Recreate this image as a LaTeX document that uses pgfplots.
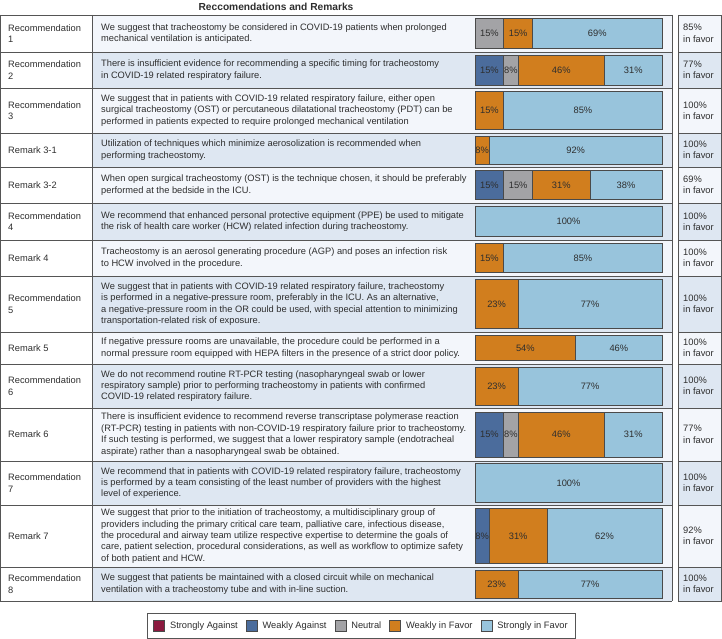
\documentclass[border=0pt]{standalone}
\usepackage{pgfplots}
\pgfplotsset{compat=1.18}
\usepackage{fontspec}
\setmainfont{Liberation Sans}
\definecolor{cSA}{HTML}{8B1A3F}
\definecolor{cWA}{HTML}{4B6C9C}
\definecolor{cN}{HTML}{A3A3A6}
\definecolor{cWF}{HTML}{D17E1E}
\definecolor{cSF}{HTML}{98C4DC}
\definecolor{rowB}{HTML}{DEE7F2}
\definecolor{rowL}{HTML}{F3F6FB}
\definecolor{gridc}{HTML}{555555}
\definecolor{barline}{HTML}{4A4A4A}
\definecolor{tcol}{HTML}{2E2E2E}
\newcommand\fs{\fontsize{9.3}{11.4}\selectfont}
\pgfplotsset{
  rowax/.style={xbar stacked, scale only axis, width=187pt,
    xmin=0, xmax=100, ymin=-0.5, ymax=0.5, hide axis, clip=false,
    anchor=north west, point meta=explicit,
    nodes near coords={\pgfmathprintnumber[fixed,precision=0,assume math mode=true]{\pgfplotspointmeta}\%},
    every node near coord/.append style={anchor=center, font=\fs, text=tcol}}
}
\newcommand\seg[2]{\addplot[fill=#1, draw=barline, line width=0.8pt] coordinates {(#2,0) [#2]};}
\newcommand\segf[2]{\addplot[forget plot, fill=#1, draw=barline, line width=0.8pt] coordinates {(#2,0) [#2]};}
\tikzset{txt/.style={anchor=west, align=left, inner sep=0pt, font=\fs, text=tcol}}
\begin{document}
\begin{tikzpicture}[x=1pt,y=-1pt]
\useasboundingbox (0,0) rectangle (722,639);
\node[anchor=base, font=\bfseries\fontsize{10.2}{12}\selectfont, text=tcol] at (276,10.5) {Reccomendations and Remarks};
% backgrounds
\foreach \t/\b/\c in {15/52/rowL,52/88/rowB,88/133/rowL,133/167/rowB,167/203/rowL,203/240/rowB,240/276/rowL,276/332/rowB,332/364/rowL,364/408/rowB,408/461/rowL,461/505/rowB,505/567/rowL,567/601/rowB}{
  \fill[\c] (92,\t) rectangle (672,\b);
  \fill[\c] (678,\t) rectangle (722,\b);
}
% grid
\foreach \yy in {15,52,88,133,167,203,240,276,332,364,408,461,505,567,601}{
  \draw[gridc, line width=0.9pt] (0,\yy) -- (672,\yy);
  \draw[gridc, line width=0.9pt] (678,\yy) -- (722,\yy);
}
\draw[gridc, line width=0.9pt] (0.5,15) -- (0.5,601) (92,15) -- (92,601) (672,15) -- (672,601) (678,15) -- (678,601) (721.5,15) -- (721.5,601);
% column 1
\node[txt] at (8,33.5) {Recommendation\\1};
\node[txt] at (8,70) {Recommendation\\2};
\node[txt] at (8,110.5) {Recommendation\\3};
\node[txt] at (8,150) {Remark 3-1};
\node[txt] at (8,185) {Remark 3-2};
\node[txt] at (8,221.5) {Recommendation\\4};
\node[txt] at (8,258) {Remark 4};
\node[txt] at (8,304) {Recommendation\\5};
\node[txt] at (8,348) {Remark 5};
\node[txt] at (8,386) {Recommendation\\6};
\node[txt] at (8,434.5) {Remark 6};
\node[txt] at (8,483) {Recommendation\\7};
\node[txt] at (8,536) {Remark 7};
\node[txt] at (8,584) {Recommendation\\8};
% column 2
\node[txt] at (101,33.5) {We suggest that tracheostomy be considered in COVID-19 patients when prolonged\\mechanical ventilation is anticipated.};
\node[txt] at (101,70) {There is insufficient evidence for recommending a specific timing for tracheostomy\\in COVID-19 related respiratory failure.};
\node[txt] at (101,110.5) {We suggest that in patients with COVID-19 related respiratory failure, either open\\surgical tracheostomy (OST) or percutaneous dilatational tracheostomy (PDT) can be\\performed in patients expected to require prolonged mechanical ventilation};
\node[txt] at (101,150) {Utilization of techniques which minimize aerosolization is recommended when\\performing tracheostomy.};
\node[txt] at (101,185) {When open surgical tracheostomy (OST) is the technique chosen, it should be preferably\\performed at the bedside in the ICU.};
\node[txt] at (101,221.5) {We recommend that enhanced personal protective equipment (PPE) be used to mitigate\\the risk of health care worker (HCW) related infection during tracheostomy.};
\node[txt] at (101,258) {Tracheostomy is an aerosol generating procedure (AGP) and poses an infection risk\\to HCW involved in the procedure.};
\node[txt] at (101,304) {We suggest that in patients with COVID-19 related respiratory failure, tracheostomy\\is performed in a negative-pressure room, preferably in the ICU. As an alternative,\\a negative-pressure room in the OR could be used, with special attention to minimizing\\transportation-related risk of exposure.};
\node[txt] at (101,348) {If negative pressure rooms are unavailable, the procedure could be performed in a\\normal pressure room equipped with HEPA filters in the presence of a strict door policy.};
\node[txt] at (101,386) {We do not recommend routine RT-PCR testing (nasopharyngeal swab or lower\\respiratory sample) prior to performing tracheostomy in patients with confirmed\\COVID-19 related respiratory failure.};
\node[txt] at (101,434.5) {There is insufficient evidence to recommend reverse transcriptase polymerase reaction\\(RT-PCR) testing in patients with non-COVID-19 respiratory failure prior to tracheostomy.\\If such testing is performed, we suggest that a lower respiratory sample (endotracheal\\aspirate) rather than a nasopharyngeal swab be obtained.};
\node[txt] at (101,483) {We recommend that in patients with COVID-19 related respiratory failure, tracheostomy\\is performed by a team consisting of the least number of providers with the highest\\level of experience.};
\node[txt] at (101,536) {We suggest that prior to the initiation of tracheostomy, a multidisciplinary group of\\providers including the primary critical care team, palliative care, infectious disease,\\the procedural and airway team utilize respective expertise to determine the goals of\\care, patient selection, procedural considerations, as well as workflow to optimize safety\\of both patient and HCW.};
\node[txt] at (101,584) {We suggest that patients be maintained with a closed circuit while on mechanical\\ventilation with a tracheostomy tube and with in-line suction.};
% right column
\node[txt] at (683,33.5) {85\%\\in favor};
\node[txt] at (683,70) {77\%\\in favor};
\node[txt] at (683,110.5) {100\%\\in favor};
\node[txt] at (683,150) {100\%\\in favor};
\node[txt] at (683,185) {69\%\\in favor};
\node[txt] at (683,221.5) {100\%\\in favor};
\node[txt] at (683,258) {100\%\\in favor};
\node[txt] at (683,304) {100\%\\in favor};
\node[txt] at (683,348) {100\%\\in favor};
\node[txt] at (683,386) {100\%\\in favor};
\node[txt] at (683,434.5) {77\%\\in favor};
\node[txt] at (683,483) {100\%\\in favor};
\node[txt] at (683,536) {92\%\\in favor};
\node[txt] at (683,584) {100\%\\in favor};
% bars
\begin{axis}[rowax, at={(475pt,-15pt)}, height=37pt, bar width=30pt]
\seg{cN}{15.38}\seg{cWF}{15.38}\seg{cSF}{69.23}
\end{axis}
\begin{axis}[rowax, at={(475pt,-52pt)}, height=36pt, bar width=30pt]
\seg{cWA}{15.38}\seg{cN}{7.69}\seg{cWF}{46.15}\seg{cSF}{30.77}
\end{axis}
\begin{axis}[rowax, at={(475pt,-88pt)}, height=45pt, bar width=38pt]
\seg{cWF}{15.38}\seg{cSF}{84.62}
\end{axis}
\begin{axis}[rowax, at={(475pt,-133pt)}, height=34pt, bar width=28pt]
\seg{cWF}{7.69}\seg{cSF}{92.31}
\end{axis}
\begin{axis}[rowax, at={(475pt,-167pt)}, height=36pt, bar width=29pt]
\seg{cWA}{15.38}\seg{cN}{15.38}\seg{cWF}{30.77}\seg{cSF}{38.46}
\end{axis}
\begin{axis}[rowax, at={(475pt,-203pt)}, height=37pt, bar width=30pt]
\seg{cSF}{100}
\end{axis}
\begin{axis}[rowax, at={(475pt,-240pt)}, height=36pt, bar width=29pt]
\seg{cWF}{15.38}\seg{cSF}{84.62}
\end{axis}
\begin{axis}[rowax, at={(475pt,-276pt)}, height=56pt, bar width=49pt]
\seg{cWF}{23.08}\seg{cSF}{76.92}
\end{axis}
\begin{axis}[rowax, at={(475pt,-332pt)}, height=32pt, bar width=25pt]
\seg{cWF}{53.85}\seg{cSF}{46.15}
\end{axis}
\begin{axis}[rowax, at={(475pt,-364pt)}, height=44pt, bar width=38pt]
\seg{cWF}{23.08}\seg{cSF}{76.92}
\end{axis}
\begin{axis}[rowax, at={(475pt,-408pt)}, height=53pt, bar width=45pt]
\seg{cWA}{15.38}\seg{cN}{7.69}\seg{cWF}{46.15}\seg{cSF}{30.77}
\end{axis}
\begin{axis}[rowax, at={(475pt,-461pt)}, height=44pt, bar width=39pt]
\seg{cSF}{100}
\end{axis}
\begin{axis}[rowax, at={(475pt,-505pt)}, height=62pt, bar width=55pt]
\seg{cWA}{7.69}\seg{cWF}{30.77}\seg{cSF}{61.54}
\end{axis}
\begin{axis}[rowax, at={(475pt,-567pt)}, height=34pt, bar width=28pt,
  legend columns=5,
  legend image code/.code={\draw[#1] (0pt,-5.5pt) rectangle (11pt,5.5pt);},
  legend style={at={(-0.607,-0.353)}, anchor=north, draw=gridc, line width=0.6pt,
    font=\fs, text=tcol, inner xsep=6pt, inner ysep=6.5pt,
    /tikz/every odd column/.append style={column sep=3pt},
    /tikz/every even column/.append style={column sep=6pt}}]
\segf{cWF}{23.08}\segf{cSF}{76.92}
\addlegendimage{fill=cSA, draw=barline, line width=0.8pt}
\addlegendentry{Strongly Against}
\addlegendimage{fill=cWA, draw=barline, line width=0.8pt}
\addlegendentry{Weakly Against}
\addlegendimage{fill=cN, draw=barline, line width=0.8pt}
\addlegendentry{Neutral}
\addlegendimage{fill=cWF, draw=barline, line width=0.8pt}
\addlegendentry{Weakly in Favor}
\addlegendimage{fill=cSF, draw=barline, line width=0.8pt}
\addlegendentry{Strongly in Favor}
\end{axis}
\end{tikzpicture}
\end{document}
